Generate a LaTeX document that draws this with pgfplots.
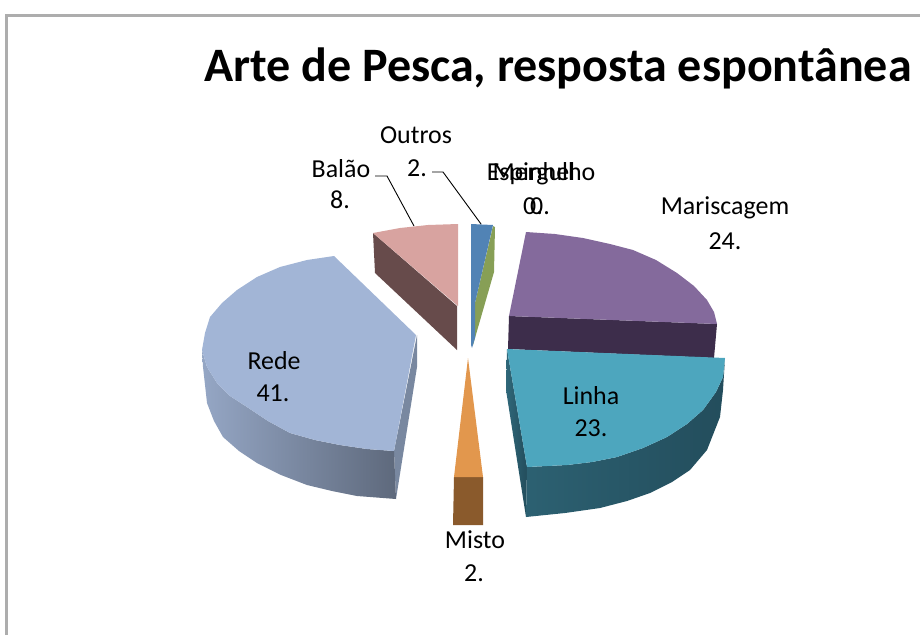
\documentclass[border=0pt]{standalone}
\usepackage{pgfplots}
\usepackage{fontspec}
\setmainfont{Carlito}
\pgfplotsset{compat=1.18}
\definecolor{framegray}{HTML}{ADADAD}
\definecolor{redetop}{HTML}{A2B5D6}
\definecolor{balaotop}{HTML}{D8A3A0}
\definecolor{balaoside}{HTML}{674B4B}
\definecolor{outrostop}{HTML}{5183B5}
\definecolor{verde}{HTML}{879F56}
\definecolor{marisctop}{HTML}{846A9C}
\definecolor{mariscside}{HTML}{3D2D4B}
\definecolor{linhatop}{HTML}{4DA6BE}
\definecolor{linhaside}{HTML}{234D5C}
\definecolor{mistotop}{HTML}{E2974D}
\definecolor{mistoside}{HTML}{8A5A2C}
\tikzset{lbl/.style={font=\fontsize{26}{30}\selectfont, align=center, text=black, inner sep=0pt}}
\begin{document}
\begin{tikzpicture}
\begin{axis}[
  width=920bp, height=635bp, scale only axis,
  xmin=0, xmax=920, ymin=0, ymax=635, y dir=reverse,
  axis lines=none, clip=true,
  every axis plot/.append style={draw=none},
]
% keeps the page at the full size
\path (axis cs:0,0) (axis cs:920,635);
% frame
\addplot[draw=framegray, line width=3bp] coordinates {(6,635) (6,16) (920,16)};

% Rede
\addplot[fill=redetop!75!black, draw=none] coordinates {(417,335) (417,367) (396,499) (394,451)} -- cycle;
\addplot[left color=redetop!92!black, right color=redetop!58!black, draw=none] coordinates {
 (202,350) (203,367) (207,403) (214,421) (223,437) (239,451) (257,463) (281,475) (307,485)
 (332,491) (357,496) (396,499) (394,451) (367,449) (340,445) (315,440) (290,433) (268,421) (247,407) (230,396) (217,383) (207,367)} -- cycle;
\addplot[fill=redetop, draw=none] coordinates {
 (334,256) (416,335) (394,451) (367,449) (340,445) (315,440) (290,433) (268,421) (247,407) (230,396) (217,383)
 (207,367) (202,350) (205,333) (210,317) (222,303) (237,290) (257,277) (280,267) (307,260)} -- cycle;

% Balao
\addplot[fill=balaoside] coordinates {(373,233) (375,273) (457,350) (457,306)} -- cycle;
\addplot[fill=balaotop] coordinates {(373,233) (400,228) (428,225) (458,224) (458,306)} -- cycle;

% Outros, Espinhel
\addplot[fill=verde] coordinates {(493,226) (495,227) (494,272) (475,338) (473,345) (475,303)} -- cycle;
\addplot[fill=outrostop] coordinates {(471,224) (493,225) (475,303) (475,338) (472,348) (471,345)} -- cycle;

% Mariscagem
\addplot[fill=mariscside] coordinates {(509,316) (717,324) (714,358) (508,349)} -- cycle;
\addplot[fill=marisctop] coordinates {
 (526,232) (555,234) (583,238) (610,244) (633,250) (656,260) (677,273) (694,286) (707,300) (714,312) (717,324) (509,316)} -- cycle;

% Linha
\addplot[left color=linhaside!70!linhatop, right color=linhaside, draw=none] coordinates {(507,349) (506,390) (526,517) (527,467)} -- cycle;
\addplot[left color=linhaside!78!linhatop, right color=linhaside, draw=none] coordinates {
 (527,467) (526,517) (565,513) (600,508) (627,501) (650,493) (672,482) (690,470) (707,450) (720,417) (723,390) (725,358)
 (723,377) (716,392) (703,410) (687,424) (667,437) (643,448) (617,457) (592,462) (567,465)} -- cycle;
\addplot[fill=linhatop] coordinates {
 (507,349) (725,358) (723,377) (716,392) (703,410) (687,424) (667,437) (643,448) (617,457) (592,462) (567,465) (527,467)} -- cycle;

% Misto
\addplot[fill=mistoside] coordinates {(454,477) (483,477) (483,525) (453,525)} -- cycle;
\addplot[fill=mistotop] coordinates {(468,358) (483,477) (454,477)} -- cycle;

% leader lines
\addplot[draw=black, line width=0.9bp] coordinates {(375,176) (387,176) (414,226)};
\addplot[draw=black, line width=0.9bp] coordinates {(432,172) (443,172) (481,224)};

% text
\node[font=\fontsize{48.2}{52}\selectfont\bfseries, inner sep=0pt] at (axis cs:558,68) {Arte de Pesca, resposta espontânea};
\node[lbl] at (axis cs:416,135) {Outros};
\node[lbl] at (axis cs:417,168) {2.};
\node[lbl] at (axis cs:341,169) {Balão};
\node[lbl] at (axis cs:340,200) {8.};
\node[lbl] at (axis cs:725,208) {Mariscagem};
\node[lbl] at (axis cs:725,241) {24.};
\node[lbl] at (axis cs:274,361) {Rede};
\node[lbl] at (axis cs:273,393) {41.};
\node[lbl] at (axis cs:591,396) {Linha};
\node[lbl] at (axis cs:591,428) {23.};
\node[lbl] at (axis cs:475,540) {Misto};
\node[lbl] at (axis cs:474,573) {2.};
\node[lbl] at (axis cs:531,174) {Espinhel};
\node[lbl] at (axis cs:544,174) {Mergulho};
\node[lbl] at (axis cs:533,206) {0.};
\node[lbl] at (axis cs:540,206) {0.};
\end{axis}
\end{tikzpicture}
\end{document}
